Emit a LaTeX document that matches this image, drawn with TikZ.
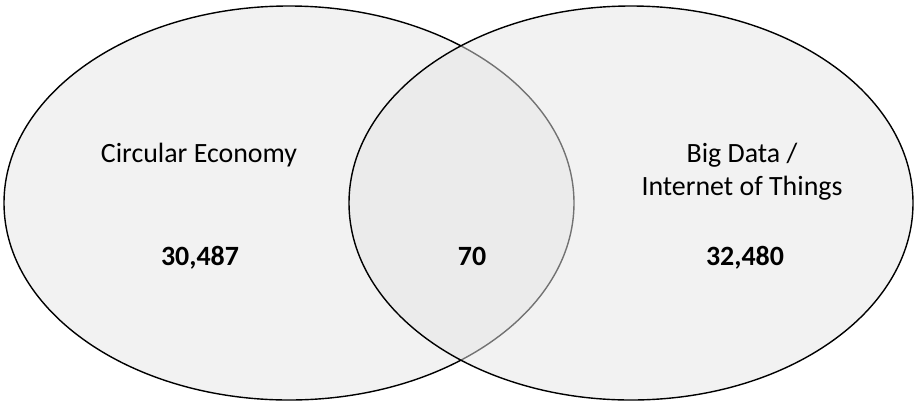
\documentclass[tikz,border=0pt]{standalone}
\usepackage{fontspec}
\setmainfont{Carlito}
\usetikzlibrary{shapes.geometric}
\definecolor{setfill}{HTML}{F2F2F2}
\definecolor{overfill}{HTML}{E5E5E5}
\tikzset{
  setA/.style={draw, ellipse, line width=1.4bp, fill=setfill, inner sep=0pt, minimum width=570bp, minimum height=394bp},
  setB/.style={draw, ellipse, line width=1.4bp, fill=overfill, fill opacity=0.5, draw opacity=1, inner sep=0pt, minimum width=564bp, minimum height=394bp},
  setname/.style={align=center, anchor=base, font=\fontsize{28}{33}\selectfont},
  setcount/.style={anchor=base, font=\fontsize{28}{32}\selectfont\bfseries}
}
\begin{document}
\begin{tikzpicture}[x=1bp, y=-1bp]
  \useasboundingbox (0,0) rectangle (916,402);
  % the two sets
  \node[setA] (ce) at (289,203) {};
  \node[setB] (iot) at (631,203) {};
  % names
  \node[setname] (ceName) at (199,162) {Circular Economy};
  \node[setname] (iotName) at (742,195) {Big Data /\\Internet of Things};
  % counts
  \node[setcount] (ceCount) at (200,265) {30,487};
  \node[setcount] (bothCount) at (472,265) {70};
  \node[setcount] (iotCount) at (745,265) {32,480};
\end{tikzpicture}
\end{document}
